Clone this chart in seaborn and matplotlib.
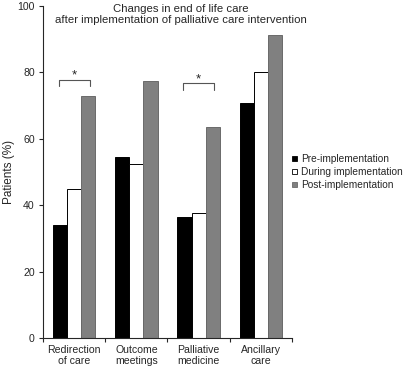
import pandas as pd
import matplotlib.pyplot as plt
import seaborn as sns

# Data
categories = ['Redirection\nof care', 'Outcome\nmeetings', 'Palliative\nmedicine', 'Ancillary\ncare']
phases = ['Pre-implementation', 'During implementation', 'Post-implementation']
pre_vals = [34.0, 54.5, 36.5, 70.7]
during_vals = [45.0, 52.5, 37.5, 80.0]
post_vals = [72.8, 77.5, 63.5, 91.2]

df = pd.DataFrame({
    'category': categories * 3,
    'phase': [phases[0]] * 4 + [phases[1]] * 4 + [phases[2]] * 4,
    'value': pre_vals + during_vals + post_vals,
})

sns.set_style('ticks')
plt.rcParams['font.family'] = ['Liberation Sans', 'DejaVu Sans']

fig = plt.figure(figsize=(4.06, 3.70), dpi=100)
ax = fig.add_axes([0.106, 0.0865, 0.613, 0.8975])

fills = ['#000000', '#ffffff', '#808080']
edges = ['#000000', '#000000', '#6a6a6a']
sns.barplot(data=df, x='category', y='value', hue='phase', palette=fills,
            width=0.68, ax=ax, legend=False, linewidth=0.7, saturation=1)
for cont, ec in zip(ax.containers, edges):
    for bar in cont:
        bar.set_edgecolor(ec)

ax.set_ylim(0, 100)
ax.set_xlim(-0.5, 3.5)
ax.set_yticks([0, 20, 40, 60, 80, 100])
ax.set_xticks([-0.5, 0.5, 1.5, 2.5, 3.5])
ax.set_xticklabels([])
ax.set_xticks(range(4), categories, minor=True)
ax.tick_params(axis='x', which='minor', length=0, labelsize=7.6, pad=5)
ax.tick_params(axis='x', which='major', length=3, width=0.8, direction='out')
ax.tick_params(axis='y', length=3, width=0.8, labelsize=7.6, pad=3)
for lab in ax.get_xticklabels(minor=True):
    lab.set_linespacing(1.15)
ax.set_xlabel('')
ax.set_ylabel('Patients (%)', fontsize=8.5)
ax.yaxis.set_label_coords(-0.112, 0.5)
sns.despine(ax=ax)
for s in ['left', 'bottom']:
    ax.spines[s].set_linewidth(0.8)

# significance brackets
def bracket(x0, x1, y, h=2.0):
    ax.plot([x0, x0, x1, x1], [y - h, y, y, y - h], color='#555555', lw=0.8)
    ax.text((x0 + x1) / 2, y - 0.6, '*', ha='center', va='bottom', fontsize=9.5)

bracket(-0.25, 0.25, 77.8)
bracket(1.75, 2.25, 76.8)

fig.text(0.445, 0.99, 'Changes in end of life care\nafter implementation of palliative care intervention',
         ha='center', va='top', fontsize=8.2, linespacing=1.2)

handles = [plt.Rectangle((0, 0), 1, 1, facecolor=f, edgecolor=e, lw=0.6) for f, e in zip(fills, edges)]
fig.legend(handles, phases, loc='upper left', bbox_to_anchor=(0.705, 0.6), frameon=False,
           fontsize=7.3, handlelength=0.5, handleheight=0.5, handletextpad=0.4,
           labelspacing=0.3, borderaxespad=0.2)

fig.savefig('out.png', dpi=100)
